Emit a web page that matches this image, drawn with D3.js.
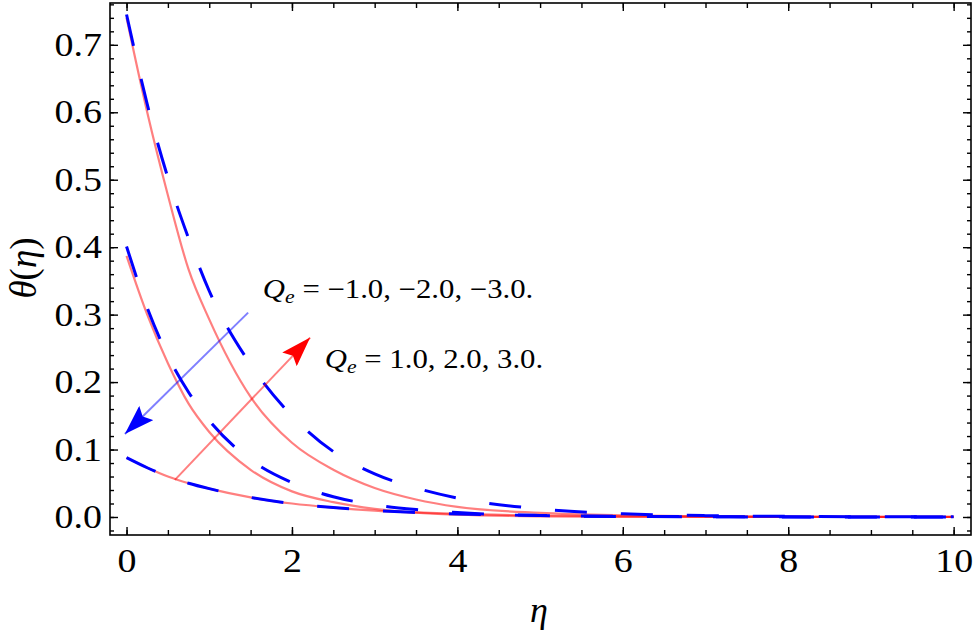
<!DOCTYPE html>
<html>
<head>
<meta charset="utf-8">
<script src="https://cdn.jsdelivr.net/npm/d3@7"></script>
<style>
  body { margin: 0; background: #fff; }
  text { font-family: "Liberation Serif", "Times New Roman", serif; fill: #000; }
</style>
</head>
<body>
<div id="chart"></div>
<script>
//data
const eta = [0, 0.25, 0.5, 0.75, 1, 1.5, 2, 2.5, 3, 3.5, 4, 5, 6, 7, 8, 9, 10];
const redTop = [0.74, 0.6, 0.477, 0.367, 0.293, 0.178, 0.11, 0.07, 0.043, 0.026, 0.015, 0.006, 0.0024, 0.001, 0.0004, 0.0002, 0.0001];
const redMid = [0.387, 0.3, 0.228, 0.168, 0.126, 0.07, 0.038, 0.022, 0.012, 0.0065, 0.0035, 0.001, 0.0003, 0.0001, 0, 0, 0];
const redLow = [0.088, 0.073, 0.06, 0.05, 0.042, 0.029, 0.02, 0.014, 0.0095, 0.0067, 0.0046, 0.0022, 0.001, 0.0005, 0.0002, 0.0001, 0.00005];
const blueTop = [0.745, 0.612, 0.503, 0.413, 0.335, 0.226, 0.15, 0.097, 0.064, 0.043, 0.028, 0.012, 0.0048, 0.002, 0.0009, 0.0004, 0.0002];
const blueMid = [0.401, 0.31, 0.239, 0.185, 0.143, 0.085, 0.051, 0.03, 0.018, 0.011, 0.0065, 0.0023, 0.0008, 0.0003, 0.0001, 0.00005, 0.00002];
const blueLow = [0.088, 0.073, 0.06, 0.05, 0.042, 0.029, 0.02, 0.014, 0.0095, 0.0067, 0.0046, 0.0022, 0.001, 0.0005, 0.0002, 0.0001, 0.00005];

const xTicks = [0, 2, 4, 6, 8, 10];
const yTicks = [0, 0.1, 0.2, 0.3, 0.4, 0.5, 0.6, 0.7];
const qNegText = "= \u22121.0, \u22122.0, \u22123.0.";
const qPosText = "= 1.0, 2.0, 3.0.";

//size
const width = 975, height = 640;
const frame = { left: 110, right: 971, top: 3, bottom: 535 };
const stretch = 1.15;

//scale
const x = d3.scaleLinear().domain([-0.2, 10.21]).range([frame.left, frame.right]);
const y = d3.scaleLinear().domain([-0.0267, 0.762]).range([frame.bottom, frame.top]);

const svg = d3.select("#chart").append("svg")
  .attr("width", width)
  .attr("height", height);

//markers for the arrows
const defs = svg.append("defs");
[["head-blue", "#0000ff"], ["head-red", "#ff0000"]].forEach(([id, c]) => {
  defs.append("marker")
    .attr("id", id)
    .attr("viewBox", "0 -10 30 20")
    .attr("refX", 30).attr("refY", 0)
    .attr("markerWidth", 30).attr("markerHeight", 20)
    .attr("markerUnits", "userSpaceOnUse")
    .attr("orient", "auto")
    .append("path")
    .attr("d", "M0,-10L30,0L0,10L5,0Z")
    .attr("fill", c);
});

//curves
const line = d3.line()
  .x((d) => x(d[0]))
  .y((d) => y(d[1]))
  .curve(d3.curveMonotoneX);

const solid = [redTop, redMid, redLow];
const dashed = [blueTop, blueMid, blueLow];

svg.append("g").attr("class", "red")
  .selectAll("path")
  .data(solid)
  .join("path")
  .attr("d", (v) => line(eta.map((e, i) => [e, v[i]])))
  .attr("fill", "none")
  .attr("stroke", "#ff0000")
  .attr("stroke-opacity", 0.5)
  .attr("stroke-width", 2.2);

svg.append("g").attr("class", "blue")
  .selectAll("path")
  .data(dashed)
  .join("path")
  .attr("d", (v) => line(eta.map((e, i) => [e, v[i]])))
  .attr("fill", "none")
  .attr("stroke", "#0000ff")
  .attr("stroke-width", 3)
  .attr("stroke-dasharray", "32,34");

//axes, ticks inward on all four sides
const yMinor = d3.range(-1, 39).map((i) => +(i * 0.02).toFixed(2));
const xMinor = d3.range(0, 21).map((i) => i * 0.5);

function tickStyle(g) {
  g.select(".domain").remove();
  g.selectAll("line").attr("stroke", "#000").attr("stroke-width", 1.4);
}

svg.append("g").attr("transform", `translate(${frame.left},0)`)
  .call(d3.axisLeft(y).tickValues(yMinor).tickSize(-4).tickFormat(""))
  .call(tickStyle);
svg.append("g").attr("class", "y-axis").attr("transform", `translate(${frame.left},0)`)
  .call(d3.axisLeft(y).tickValues(yTicks).tickSize(-8).tickPadding(7).tickFormat(d3.format(".1f")))
  .call(tickStyle);
svg.append("g").attr("transform", `translate(${frame.right},0)`)
  .call(d3.axisRight(y).tickValues(yMinor).tickSize(-4).tickFormat(""))
  .call(tickStyle);
svg.append("g").attr("transform", `translate(${frame.right},0)`)
  .call(d3.axisRight(y).tickValues(yTicks).tickSize(-8).tickFormat(""))
  .call(tickStyle);

svg.append("g").attr("transform", `translate(0,${frame.bottom})`)
  .call(d3.axisBottom(x).tickValues(xMinor).tickSize(-5).tickFormat(""))
  .call(tickStyle);
svg.append("g").attr("class", "x-axis").attr("transform", `translate(0,${frame.bottom})`)
  .call(d3.axisBottom(x).tickValues(xTicks).tickSize(-8).tickPadding(14))
  .call(tickStyle);
svg.append("g").attr("transform", `translate(0,${frame.top})`)
  .call(d3.axisTop(x).tickValues(xMinor).tickSize(-5).tickFormat(""))
  .call(tickStyle);
svg.append("g").attr("transform", `translate(0,${frame.top})`)
  .call(d3.axisTop(x).tickValues(xTicks).tickSize(-8).tickFormat(""))
  .call(tickStyle);

svg.selectAll(".x-axis text, .y-axis text")
  .attr("font-family", "Liberation Serif")
  .attr("font-size", 33)
  .attr("fill", "#000")
  .attr("transform", `scale(${stretch},1)`);

//frame
svg.append("rect")
  .attr("x", frame.left).attr("y", frame.top)
  .attr("width", frame.right - frame.left)
  .attr("height", frame.bottom - frame.top)
  .attr("fill", "none")
  .attr("stroke", "#000")
  .attr("stroke-width", 1.6);

//axis titles
const yTitle = svg.append("text")
  .attr("transform", "translate(36,268) rotate(-90)")
  .attr("text-anchor", "middle")
  .attr("font-size", 37);
yTitle.append("tspan").attr("font-style", "italic").text("\u03b8");
yTitle.append("tspan").text("(");
yTitle.append("tspan").attr("font-style", "italic").text("\u03b7");
yTitle.append("tspan").text(")");

svg.append("text")
  .attr("x", 539).attr("y", 622)
  .attr("text-anchor", "middle")
  .attr("font-size", 36)
  .attr("font-style", "italic")
  .text("\u03b7");

//arrows
const arrows = [
  { from: [1.47, 0.303], to: [-0.02, 0.123], color: "#0000ff", head: "head-blue" },
  { from: [0.585, 0.055], to: [2.22, 0.266], color: "#ff0000", head: "head-red" }
];
svg.append("g").selectAll("line")
  .data(arrows)
  .join("line")
  .attr("x1", (d) => x(d.from[0])).attr("y1", (d) => y(d.from[1]))
  .attr("x2", (d) => x(d.to[0])).attr("y2", (d) => y(d.to[1]))
  .attr("stroke", (d) => d.color)
  .attr("stroke-opacity", 0.5)
  .attr("stroke-width", 2)
  .attr("marker-end", (d) => `url(#${d.head})`);

//annotations
const notes = [
  { at: [1.648, 0.324], text: qNegText },
  { at: [2.397, 0.2215], text: qPosText }
];
notes.forEach((n) => {
  const t = svg.append("g")
    .attr("transform", `translate(${x(n.at[0])},${y(n.at[1])}) scale(1.14,1)`)
    .append("text")
    .attr("font-size", 27);
  t.append("tspan").attr("font-style", "italic").text("Q");
  t.append("tspan").attr("font-style", "italic").attr("font-size", 19).attr("dy", 5).text("e");
  t.append("tspan").attr("dy", -5).text("\u00a0" + n.text);
});
</script>
</body>
</html>
